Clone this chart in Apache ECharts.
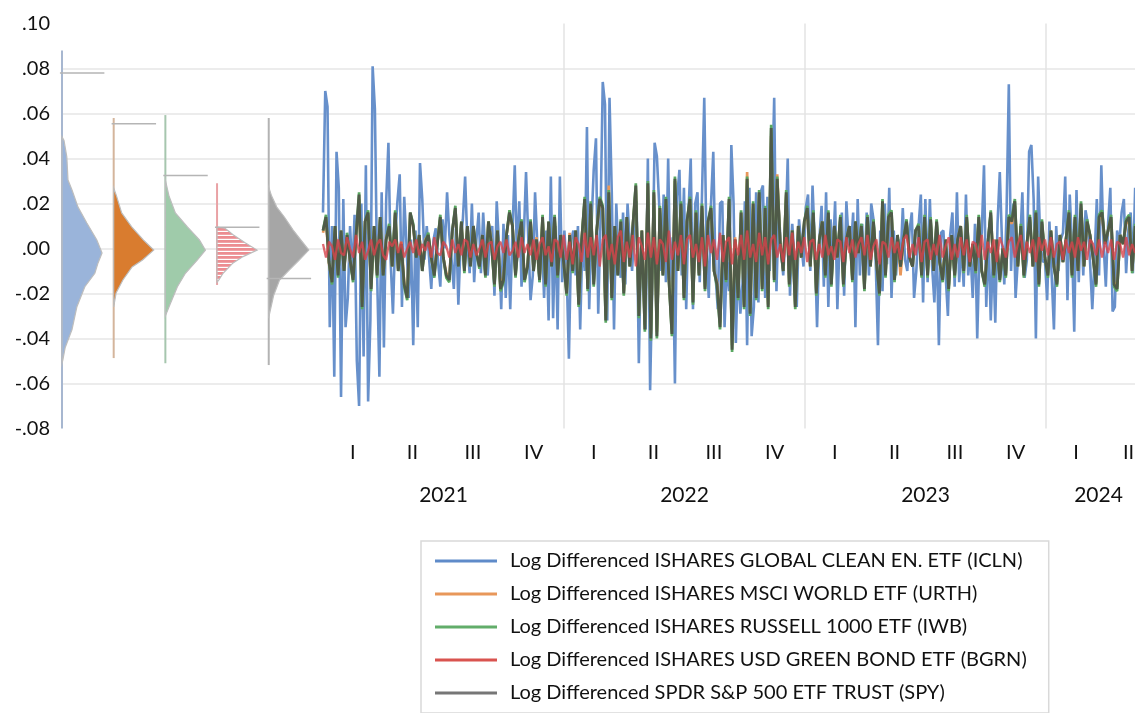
<!DOCTYPE html>
<html>
<head>
<meta charset="utf-8">
<script src="https://cdn.jsdelivr.net/npm/echarts/dist/echarts.min.js"></script>
<style>
html, body { margin: 0; padding: 0; background: #fff; overflow: hidden; }
#wrap { width: 1135px; height: 713px; overflow: hidden; }
#chart { width: 1151px; height: 713px; }
</style>
</head>
<body>
<div id="wrap"><div id="chart"></div></div>
<script>
// Daily log-differenced ETF prices, 2021 to mid-2024 (days counted from 2021-01-01)
const obsFirstDay = 0;
const obsLastDay = 1230;
const axisLastDay = 1254;

const seriesNames = [
  'Log Differenced ISHARES GLOBAL CLEAN EN. ETF (ICLN)',
  'Log Differenced ISHARES MSCI WORLD ETF (URTH)',
  'Log Differenced ISHARES RUSSELL 1000 ETF (IWB)',
  'Log Differenced ISHARES USD GREEN BOND ETF (BGRN)',
  'Log Differenced SPDR S&P 500 ETF TRUST (SPY)'
];

const iclnValues = [
  .016,.070,.063,-.035,.010,-.057,.043,.027,-.066,.022,
  -.035,-.022,.010,-.012,.015,-.050,-.070,.020,-.048,.037,
  -.068,-.032,.081,.062,-.012,-.057,.025,-.044,.021,.047,
  -.006,-.029,.005,.021,.033,-.026,.023,.002,-.022,.004,
  -.043,.008,-.035,.038,.022,-.005,.010,-.004,-.018,.004,
  .009,-.006,-.017,.013,.000,.025,.006,-.005,-.018,.011,
  -.025,.003,.013,.032,.002,-.011,.020,-.015,.004,.016,
  -.011,.016,-.003,-.012,.004,.010,-.021,.021,.002,-.027,
  .011,-.022,.006,-.027,.008,.037,-.004,.021,-.017,.005,
  .034,.004,-.023,-.012,.025,.002,-.015,.006,-.022,.008,
  -.032,.032,-.031,.010,-.036,.032,-.015,.008,-.010,-.049,
  .004,.008,-.012,.010,-.036,.004,-.010,.054,-.027,.010,
  .035,.049,-.029,.012,.074,.064,-.032,.067,.025,-.036,
  .020,-.004,-.013,.016,-.016,.020,.002,-.010,.008,.021,
  -.051,.003,-.012,-.036,.040,-.063,-.012,.047,.041,.020,
  -.010,.024,-.015,.040,-.017,.005,-.060,.023,.035,-.012,
  .027,-.027,.016,.040,-.027,.020,.025,-.015,.024,.067,
  -.001,-.022,.020,.043,-.012,-.027,.020,.021,-.035,-.006,
  -.019,.046,.020,-.042,-.005,-.029,-.015,.021,-.043,.027,
  -.039,-.026,.025,-.024,.025,.028,-.022,.023,-.010,.023,
  .067,-.019,.018,.000,-.012,.006,.040,-.021,.011,-.004,
  -.026,.013,.002,-.008,.018,.024,-.010,.028,.002,-.035,
  .004,.019,-.017,.025,-.026,.013,-.004,.021,-.027,.004,
  .016,-.021,.021,.003,-.001,.016,-.035,.022,-.012,.011,
  -.012,.016,
  -.012,.020,.013,-.006,-.043,.008,-.019,.020,-.007,.027,
  -.022,.008,-.012,.004,-.006,.018,-.005,-.010,.008,.016,
  -.022,-.010,.010,.024,-.024,.022,-.015,.022,-.008,-.024,
  .004,-.043,.007,.008,-.012,-.030,.006,.016,-.017,.025,
  -.015,.002,-.017,.024,-.012,-.001,-.022,.011,-.040,.000,
  .007,.037,-.026,.006,-.032,-.001,-.033,.011,.034,.002,
  -.016,.016,.073,-.010,.020,-.022,-.005,.002,.025,-.013,
  -.005,.043,.046,.022,-.040,.032,.002,-.006,-.005,-.023,
  .012,-.012,-.036,.010,-.010,.004,.007,.032,-.023,.024,
  .002,-.037,.026,-.015,.016,-.012,.017,.011,-.006,-.027,
  -.005,.022,-.012,.037,.002,-.017,.011,.027,-.028,-.026,
  .008,.002,.016,.022,-.011,.008,.016,-.011,.027
];

const urthValues = [
  .007,.013,-.007,-.014,.009,-.011,.008,-.009,.006,-.006,
  -.013,.005,.022,-.024,.012,.015,-.017,.010,-.011,.013,
  -.011,.005,.009,-.008,.015,-.009,.003,-.015,-.021,.015,
  .010,-.003,.006,-.009,.004,.006,-.004,-.011,.003,.013,
  -.004,-.011,-.013,.008,.017,-.007,.011,-.009,.010,-.007,
  .009,-.002,-.007,.006,-.011,.012,.003,-.015,.008,-.017,
  -.013,.006,.015,.010,-.011,.005,.012,-.013,-.008,.012,
  -.009,.005,-.013,.013,-.015,.011,-.007,.013,-.011,.006,
  -.006,-.019,.007,-.010,.008,-.024,.004,.021,-.017,.019,
  -.015,.008,.021,.018,-.030,.028,-.021,.010,-.011,.012,
  -.019,.013,-.008,.010,.026,-.029,.008,-.034,.028,-.038,
  .024,-.037,.018,-.011,.021,-.013,-.036,.030,-.009,.019,
  -.021,.012,.021,-.023,.016,-.011,.018,-.017,.012,.017,
  -.010,-.015,-.033,.006,-.013,.021,-.043,.005,-.021,.016,
  -.025,.034,-.028,.020,-.021,.024,-.017,.018,-.025,.050,
  -.013,.033,.003,-.009,.024,-.015,.008,-.025,.010,-.004,
  .011,.017,-.008,.015,-.019,.004,.012,-.011,.015,-.015,
  .010,-.004,.013,-.015,.004,.010,-.013,.012,-.002,.010,
  -.017,.013,-.008,.011,-.006,-.019,.020,-.011,.013,.015,
  -.013,.006,-.012,.004,.011,-.004,-.008,.008,.010,-.011,
  .013,-.011,.012,-.010,.011,-.006,-.013,.004,-.017,.006,
  -.011,.004,.010,-.010,.013,-.008,.002,-.009,.013,-.010,
  -.015,.002,.015,-.011,.004,-.013,.000,-.011,.013,.011,
  .019,-.008,.010,-.011,.002,.013,-.008,.015,-.015,.011,
  -.004,-.011,.008,-.008,-.015,.006,-.006,.004,.015,-.011,
  .013,-.010,.018,-.008,.011,.006,-.004,-.015,.013,.015,
  .002,.008,.013,-.015,-.017,.006,.002,.011,.013,-.010,
  .009
];

const iwbValues = [
  .008,.015,-.006,-.016,.010,-.013,.008,-.010,.007,-.005,
  -.015,.006,.025,-.027,.012,.017,-.019,.010,-.013,.014,
  -.012,.004,.011,-.008,.017,-.010,.002,-.017,-.023,.016,
  .011,-.004,.006,-.010,.003,.007,-.004,-.013,.002,.015,
  -.004,-.013,-.015,.008,.019,-.008,.012,-.011,.010,-.008,
  .010,-.002,-.009,.006,-.013,.012,.002,-.017,.008,-.019,
  -.015,.006,.017,.010,-.013,.004,.013,-.015,-.008,.013,
  -.010,.004,-.015,.015,-.017,.012,-.008,.015,-.013,.006,
  -.006,-.021,.006,-.011,.008,-.026,.004,.023,-.019,.021,
  -.017,.008,.023,.019,-.033,.026,-.023,.010,-.012,.013,
  -.021,.014,-.008,.010,.029,-.031,.008,-.037,.030,-.041,
  .026,-.040,.019,-.012,.023,-.014,-.039,.032,-.010,.021,
  -.023,.012,.023,-.025,.017,-.012,.020,-.019,.012,.019,
  -.010,-.017,-.036,.006,-.015,.023,-.046,.004,-.023,.017,
  -.027,.032,-.030,.021,-.023,.026,-.019,.019,-.027,.055,
  -.015,.032,.002,-.010,.026,-.017,.008,-.027,.010,-.004,
  .012,.019,-.008,.017,-.021,.004,.012,-.013,.017,-.017,
  .010,-.004,.015,-.017,.004,.010,-.015,.012,-.002,.011,
  -.019,.015,-.008,.013,-.006,-.021,.022,-.013,.015,.017,
  -.015,.006,-.008,.004,.013,-.004,-.008,.008,.011,-.013,
  .015,-.013,.014,-.010,.013,-.006,-.015,.004,-.019,.006,
  -.013,.004,.010,-.011,.015,-.008,.002,-.011,.015,-.010,
  -.017,.002,.017,-.013,.004,-.015,.000,-.013,.015,.013,
  .022,-.008,.011,-.013,.002,.015,-.008,.017,-.017,.013,
  -.004,-.013,.008,-.008,-.017,.006,-.006,.004,.017,-.013,
  .015,-.010,.021,-.008,.013,.006,-.004,-.017,.015,.017,
  .002,.008,.015,-.017,-.019,.006,.002,.013,.015,-.011,
  .011
];

const bgrnValues = [
  .002,-.004,.003,.001,-.005,.004,-.002,-.003,.005,.000,
  -.004,.006,-.002,.003,-.005,-.001,.004,-.003,.002,.004,
  -.003,-.005,.003,.001,.004,-.002,.003,-.004,.000,.003,
  -.002,.004,-.003,.002,-.001,.003,-.004,.005,-.002,-.003,
  .003,.001,-.004,.004,-.002,.002,-.003,.004,.003,-.004,
  .002,-.003,.000,.004,-.004,.002,.003,-.005,.001,.003,
  -.002,.004,-.003,-.001,.003,-.004,.005,-.002,.002,-.003,
  .004,-.005,.002,.005,-.003,.001,-.006,.004,.003,-.004,
  .006,-.005,.003,-.007,.005,.002,-.006,.007,-.004,.005,
  -.003,.006,-.008,.004,.006,-.005,.002,-.007,.005,.008,
  -.006,.003,-.004,.006,-.008,.005,.001,-.005,.007,-.004,
  .005,-.007,.004,.002,-.006,.008,-.005,.003,-.003,.006,
  -.007,.004,.006,-.004,.002,-.006,.005,-.008,.006,-.002,
  .004,-.005,.007,-.006,.003,.005,-.007,.004,-.003,.006,
  -.005,.008,-.004,.002,-.006,.007,-.003,.005,-.007,.004,
  .006,-.004,.002,-.006,.005,-.003,.007,-.005,.003,-.002,
  .005,-.006,.003,.004,-.005,.002,-.004,.006,-.003,.001,
  -.005,.004,.003,-.006,.005,-.002,.004,-.004,.002,.005,
  -.003,.006,-.005,.001,.004,-.007,.003,.002,-.004,.005,
  -.002,.003,-.005,.004,.006,-.004,.002,-.003,.005,-.006,
  .003,.004,-.005,.002,-.003,.006,-.004,.001,.005,-.005,
  .002,-.004,.005,-.003,.004,-.006,.003,.002,-.004,.006,
  -.005,.003,-.002,.004,-.006,.005,.001,-.004,.003,.005,
  -.004,.002,.006,-.005,.003,-.002,.004,-.006,.005,-.001,
  .004,-.003,.005,-.004,.002,.003,-.005,.004,-.002,.003,
  -.004,.005,-.001,.003,-.005,.004,.002,-.003,.004,-.004,
  .003,-.002,.004,-.005,.003,.002,-.004,.005,-.003,.002,
  -.002
];

const spyValues = [
  .008,.014,-.006,-.015,.010,-.012,.008,-.010,.006,-.005,
  -.014,.006,.024,-.026,.012,.016,-.018,.010,-.012,.014,
  -.012,.004,.010,-.008,.016,-.010,.002,-.016,-.022,.016,
  .010,-.004,.006,-.010,.003,.006,-.004,-.012,.002,.014,
  -.004,-.012,-.014,.008,.018,-.008,.012,-.010,.010,-.008,
  .010,-.002,-.008,.006,-.012,.012,.002,-.016,.008,-.018,
  -.014,.006,.016,.010,-.012,.004,.012,-.014,-.008,.012,
  -.010,.004,-.014,.014,-.016,.012,-.008,.014,-.012,.006,
  -.006,-.020,.006,-.010,.008,-.025,.004,.022,-.018,.020,
  -.016,.008,.022,.018,-.032,.025,-.022,.010,-.012,.012,
  -.020,.014,-.008,.010,.028,-.030,.008,-.036,.029,-.040,
  .025,-.039,.018,-.012,.022,-.014,-.038,.031,-.010,.020,
  -.022,.012,.022,-.024,.016,-.012,.019,-.018,.012,.018,
  -.010,-.016,-.035,.006,-.014,.022,-.045,.004,-.022,.016,
  -.026,.031,-.029,.020,-.022,.025,-.018,.018,-.026,.0535,
  -.014,.031,.002,-.010,.025,-.016,.008,-.026,.010,-.004,
  .012,.018,-.008,.016,-.020,.004,.012,-.012,.016,-.016,
  .010,-.004,.014,-.016,.004,.010,-.014,.012,-.002,.010,
  -.018,.014,-.008,.012,-.006,-.020,.021,-.012,.014,.016,
  -.014,.006,-.008,.004,.012,-.004,-.008,.008,.010,-.012,
  .014,-.012,.013,-.010,.012,-.006,-.014,.004,-.018,.006,
  -.012,.004,.010,-.010,.014,-.008,.002,-.010,.014,-.010,
  -.016,.002,.016,-.012,.004,-.014,.000,-.012,.014,.012,
  .021,-.008,.010,-.012,.002,.014,-.008,.016,-.016,.012,
  -.004,-.012,.008,-.008,-.016,.006,-.006,.004,.016,-.012,
  .014,-.010,.020,-.008,.012,.006,-.004,-.016,.014,.016,
  .002,.008,.014,-.016,-.018,.006,.002,.012,.014,-.010,
  .010
];

// Kernel density estimates: [return value, relative density (peak = 100)]
const iclnDensity = [[.0496,0],[.048,5],[.0407,12],[.0304,15],[.026,25],[.0184,40],[.0113,62],[.0038,87],[-.002,100],[-.0064,90],[-.011,82],[-.017,57],[-.026,37],[-.036,25],[-.044,8],[-.0496,2],[-.051,0]];
const urthDensity = [[.0269,0],[.0234,7],[.0158,20],[.0096,45],[.0038,74],[-.0007,100],[-.0051,72],[-.0082,46],[-.014,23],[-.0198,6],[-.026,0]];
const iwbDensity = [[.0304,0],[.0234,9],[.0158,25],[.0096,55],[.0038,85],[-.0007,100],[-.0051,80],[-.011,50],[-.017,30],[-.026,9],[-.030,0]];
const bgrnDensity = [[.0095,0],[.009,20],[.0061,40],[.0026,70],[-.0007,100],[-.0036,65],[-.0064,40],[-.011,15],[-.0138,5],[-.015,0]];
const spyDensity = [[.0273,0],[.0234,7],[.0184,20],[.014,39],[.0082,61],[.0038,80],[-.0007,100],[-.0051,76],[-.0096,51],[-.014,27],[-.021,12],[-.029,2],[-.031,0]];

// Support of each density (min, max) and the reference level marked beside it
const iclnRange = [-.08, .088];
const urthRange = [-.0487, .058];
const iwbRange = [-.051, .0593];
const bgrnRange = [-.0162, .029];
const spyRange = [-.0518, .058];
const densityMarkers = [.078, .0555, .0325, .0095, -.0133];

// Axis labels
const yTicks = [-.08, -.06, -.04, -.02, .00, .02, .04, .06, .08, .10];
const quarterCenters = [45, 135.5, 227, 319, 410, 500.5, 592, 684, 775, 865.5, 957, 1049, 1140.5, 1220];
const quarterNames = ['I', 'II', 'III', 'IV', 'I', 'II', 'III', 'IV', 'I', 'II', 'III', 'IV', 'I', 'II'];
const yearCenters = [182.5, 547.5, 912.5, 1174.5];
const yearNames = ['2021', '2022', '2023', '2024'];

const FONT = 'Lato, "Open Sans", sans-serif';
const densityScale = 0.00775;

function dated(values) {
  const step = (obsLastDay - obsFirstDay) / (values.length - 1);
  return values.map((v, i) => [obsFirstDay + i * step, v]);
}

function labelLookup(centers, names) {
  const m = {};
  centers.forEach((c, i) => { m[c.toFixed(1)] = names[i]; });
  return v => m[(Math.round(v * 2) / 2).toFixed(1)] || '';
}

function fmtY(v) {
  if (Math.abs(v) < 1e-9) return '.00';
  return v.toFixed(2).replace('0.', '.');
}

function stripePattern() {
  const c = document.createElement('canvas');
  c.width = 4; c.height = 4;
  const g = c.getContext('2d');
  g.fillStyle = '#ec8d91';
  g.fillRect(0, 0, 4, 4);
  g.fillStyle = '#ffffff';
  g.fillRect(0, 2.8, 4, 1.2);
  return c;
}

function densityRenderer(slot, dens, range, marker, fill, rangeColor) {
  return function (params, api) {
    const pts = dens.map(d => api.coord([slot + d[1] * densityScale, d[0]]));
    pts.unshift(api.coord([slot, dens[0][0]]));
    pts.push(api.coord([slot, dens[dens.length - 1][0]]));
    const r0 = api.coord([slot, range[0]]);
    const r1 = api.coord([slot, range[1]]);
    const m0 = api.coord([slot - 0.04, marker]);
    const m1 = api.coord([slot + 0.82, marker]);
    return {
      type: 'group',
      children: [
        { type: 'line', shape: { x1: r0[0], y1: r0[1], x2: r1[0], y2: r1[1] }, style: { stroke: rangeColor, lineWidth: 2 } },
        { type: 'polygon', shape: { points: pts }, style: { fill: fill, stroke: '#bdbdbd', lineWidth: 1.2 } },
        { type: 'line', shape: { x1: m0[0], y1: m0[1], x2: m1[0], y2: m1[1] }, style: { stroke: '#b5b5b5', lineWidth: 1.5 } }
      ]
    };
  };
}

function densitySeries(slot, dens, range, marker, fill, rangeColor) {
  return {
    type: 'custom',
    xAxisIndex: 3,
    yAxisIndex: 1,
    clip: false,
    silent: true,
    data: [[slot, 0]],
    renderItem: densityRenderer(slot, dens, range, marker, fill, rangeColor),
    z: 3
  };
}

function lineSeries(name, values, color, width, opacity) {
  return {
    name: name,
    type: 'line',
    xAxisIndex: 0,
    yAxisIndex: 0,
    data: dated(values),
    symbol: 'none',
    showSymbol: false,
    lineStyle: { color: color, width: width, opacity: opacity },
    itemStyle: { color: color },
    emphasis: { disabled: true },
    silent: true
  };
}

const chart = echarts.init(document.getElementById('chart'), null, { renderer: 'canvas' });

const gridTop = 23.5;
const gridBottom = 284.5;

chart.setOption({
  animation: false,
  backgroundColor: '#ffffff',
  grid: [
    { left: 323, right: 0, top: gridTop, bottom: gridBottom, containLabel: false, outerBoundsMode: 'none' },
    { left: 62, width: 261, top: gridTop, bottom: gridBottom, containLabel: false, outerBoundsMode: 'none' }
  ],
  xAxis: [
    {
      // observation dates; vertical rules at each new year
      type: 'value', gridIndex: 0, min: 0, max: axisLastDay, interval: 365,
      position: 'bottom',
      axisLine: { show: false }, axisTick: { show: false }, axisLabel: { show: false },
      splitLine: { show: true, showMinLine: false, showMaxLine: false, lineStyle: { color: '#e3e3e3', width: 1.5 } }
    },
    {
      // quarter labels
      type: 'value', gridIndex: 0, min: 0, max: axisLastDay, interval: 0.5,
      position: 'bottom', offset: 0,
      axisLine: { show: false }, axisTick: { show: false }, splitLine: { show: false },
      axisLabel: { margin: 14, fontFamily: FONT, fontSize: 20, color: '#111', formatter: labelLookup(quarterCenters, quarterNames) }
    },
    {
      // year labels
      type: 'value', gridIndex: 0, min: 0, max: axisLastDay, interval: 0.5,
      position: 'bottom', offset: 42,
      axisLine: { show: false }, axisTick: { show: false }, splitLine: { show: false },
      axisLabel: { margin: 14, fontFamily: FONT, fontSize: 21, color: '#111', formatter: labelLookup(yearCenters, yearNames) }
    },
    {
      // distribution panel: one slot per ETF
      type: 'value', gridIndex: 1, min: 0, max: 5.05,
      axisLine: { show: false }, axisTick: { show: false }, axisLabel: { show: false }, splitLine: { show: false }
    }
  ],
  yAxis: [
    {
      type: 'value', gridIndex: 0, min: yTicks[0], max: yTicks[yTicks.length - 1], interval: 0.02,
      axisLine: { show: false }, axisTick: { show: false }, axisLabel: { show: false },
      splitLine: { show: true, showMinLine: false, showMaxLine: false, lineStyle: { color: '#e6e6e6', width: 1.5 } }
    },
    {
      type: 'value', gridIndex: 1, min: yTicks[0], max: yTicks[yTicks.length - 1], interval: 0.02,
      axisLine: { show: false }, axisTick: { show: false },
      axisLabel: { margin: 12, fontFamily: FONT, fontSize: 20, color: '#111', formatter: fmtY },
      splitLine: { show: true, showMinLine: false, showMaxLine: false, lineStyle: { color: '#e6e6e6', width: 1.5 } }
    }
  ],
  legend: {
    orient: 'vertical',
    left: 421,
    top: 541,
    selectedMode: false,
    icon: 'rect',
    itemWidth: 62,
    itemHeight: 3,
    itemGap: 13,
    padding: [10, 22, 10, 14],
    borderColor: '#d9d9d9',
    borderWidth: 1.5,
    textStyle: { fontFamily: FONT, fontSize: 20, color: '#111', padding: [0, 0, 0, 8] },
    data: [
      { name: seriesNames[0], itemStyle: { color: '#5f8bc9' } },
      { name: seriesNames[1], itemStyle: { color: '#e8975a' } },
      { name: seriesNames[2], itemStyle: { color: '#62ad6a' } },
      { name: seriesNames[3], itemStyle: { color: '#d9534f' } },
      { name: seriesNames[4], itemStyle: { color: '#767676' } }
    ]
  },
  series: [
    lineSeries(seriesNames[0], iclnValues, '#6790cb', 2.6, 1),
    lineSeries(seriesNames[1], urthValues, '#e8975a', 2.7, 1),
    lineSeries(seriesNames[2], iwbValues, '#5aa862', 2.7, 1),
    lineSeries(seriesNames[4], spyValues, '#4f5a48', 2.8, 1),
    lineSeries(seriesNames[3], bgrnValues, '#d6444b', 2.3, 0.8),
    densitySeries(0, iclnDensity, iclnRange, densityMarkers[0], '#9ab4da', '#a7b7d0'),
    densitySeries(1, urthDensity, urthRange, densityMarkers[1], '#d97c2f', '#d4b59c'),
    densitySeries(2, iwbDensity, iwbRange, densityMarkers[2], '#9fcbaa', '#a6c6ae'),
    densitySeries(3, bgrnDensity, bgrnRange, densityMarkers[3], { image: stripePattern(), repeat: 'repeat' }, '#e9a2a5'),
    densitySeries(4, spyDensity, spyRange, densityMarkers[4], '#a6a6a6', '#b3b3b3')
  ]
});
</script>
</body>
</html>
